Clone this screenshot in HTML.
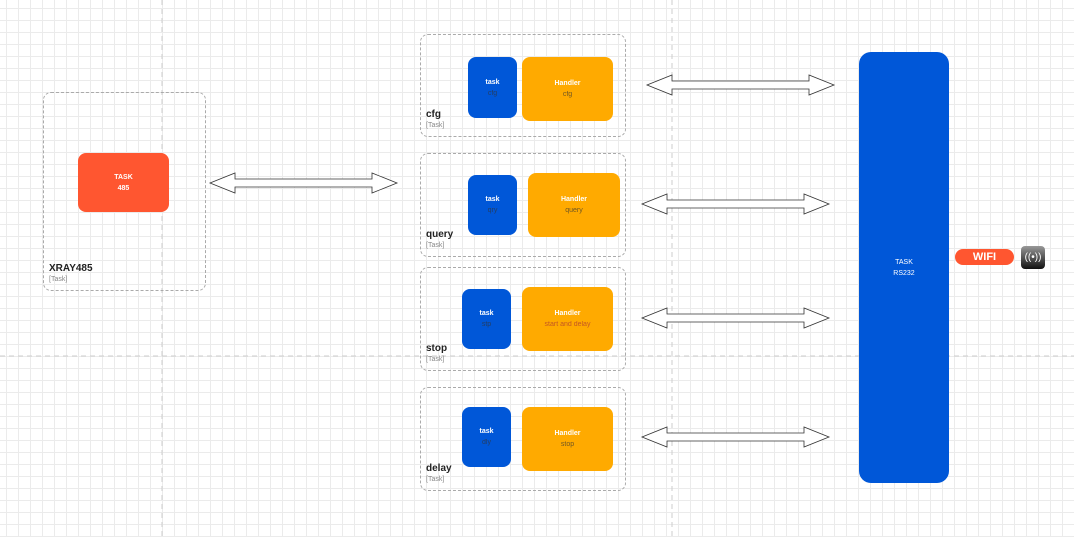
<!DOCTYPE html>
<html><head><meta charset="utf-8"><style>
body{margin:0;width:1074px;height:537px;overflow:hidden;background:#fff;font-family:"Liberation Sans",sans-serif;}
.bg{position:absolute;left:0;top:0;width:1074px;height:537px;
background-image:linear-gradient(to right,#ebebeb 1px,transparent 1px),linear-gradient(to bottom,#ebebeb 1px,transparent 1px);
background-size:12px 12px;background-position:6px 8px;}
.grp{position:absolute;border:1.3px dashed #aaa;border-radius:8px;}
.gl{position:absolute;left:5px;bottom:5px;font-size:10px;font-weight:bold;color:#222;line-height:11px;}
.gl span{display:block;font-size:7px;font-weight:normal;color:#888;}
.b{position:absolute;border-radius:8px;color:#fff;font-size:7px;font-weight:bold;display:flex;flex-direction:column;align-items:center;justify-content:center;text-align:center;line-height:11px;}
.b span{font-weight:normal;color:#333;opacity:.7}
.blue{background:#0057d8;}
.or{background:#ffaa00;}
</style></head><body>
<div class="bg"></div>
<svg style="position:absolute;left:0;top:0" width="1074" height="537">
<g stroke="#ccc" stroke-dasharray="5,4" stroke-width="1">
<line x1="162" y1="0" x2="162" y2="537"/><line x1="672" y1="0" x2="672" y2="537"/><line x1="0" y1="356" x2="1074" y2="356"/></g>
<g fill="#fff" stroke="#333" stroke-width="0.8">
<polygon points="210,183 235,173 235,179 372,179 372,173 397,183 372,193 372,187 235,187 235,193"/>
<polygon points="647,85 672,75 672,81 809,81 809,75 834,85 809,95 809,89 672,89 672,95"/>
<polygon points="642,204 667,194 667,200 804,200 804,194 829,204 804,214 804,208 667,208 667,214"/>
<polygon points="642,318 667,308 667,314 804,314 804,308 829,318 804,328 804,322 667,322 667,328"/>
<polygon points="642,437 667,427 667,433 804,433 804,427 829,437 804,447 804,441 667,441 667,447"/>
</g></svg>
<div class="grp" style="left:43px;top:92px;width:161px;height:197px"><div class="gl">XRAY485<span>[Task]</span></div></div>
<div class="b" style="left:78px;top:153px;width:91px;height:59px;background:#ff5630">TASK<br>485</div>

<div class="grp" style="left:420px;top:34px;width:204px;height:101px"><div class="gl">cfg<span>[Task]</span></div></div>
<div class="b blue" style="left:468px;top:57px;width:49px;height:61px">task<span>cfg</span></div>
<div class="b or" style="left:522px;top:57px;width:91px;height:64px">Handler<span>cfg</span></div>

<div class="grp" style="left:420px;top:153px;width:204px;height:102px"><div class="gl">query<span>[Task]</span></div></div>
<div class="b blue" style="left:468px;top:175px;width:49px;height:60px">task<span>qry</span></div>
<div class="b or" style="left:528px;top:173px;width:92px;height:64px">Handler<span>query</span></div>

<div class="grp" style="left:420px;top:267px;width:204px;height:102px"><div class="gl">stop<span>[Task]</span></div></div>
<div class="b blue" style="left:462px;top:289px;width:49px;height:60px">task<span>stp</span></div>
<div class="b or" style="left:522px;top:287px;width:91px;height:64px">Handler<span style="color:#a33">start and delay</span></div>

<div class="grp" style="left:420px;top:387px;width:204px;height:102px"><div class="gl">delay<span>[Task]</span></div></div>
<div class="b blue" style="left:462px;top:407px;width:49px;height:60px">task<span>dly</span></div>
<div class="b or" style="left:522px;top:407px;width:91px;height:64px">Handler<span>stop</span></div>

<div class="b blue" style="left:859px;top:52px;width:90px;height:431px;border-radius:12px;font-weight:normal">TASK<br>RS232</div>
<div class="b" style="left:955px;top:249px;width:59px;height:16px;border-radius:8px;background:#ff5630;font-size:11px">WIFI</div>
<div style="position:absolute;left:1021px;top:246px;width:24px;height:23px;border-radius:4px;background:linear-gradient(#999,#111);color:#fff;font-size:10px;text-align:center;line-height:23px">((•))</div>
</body></html>
